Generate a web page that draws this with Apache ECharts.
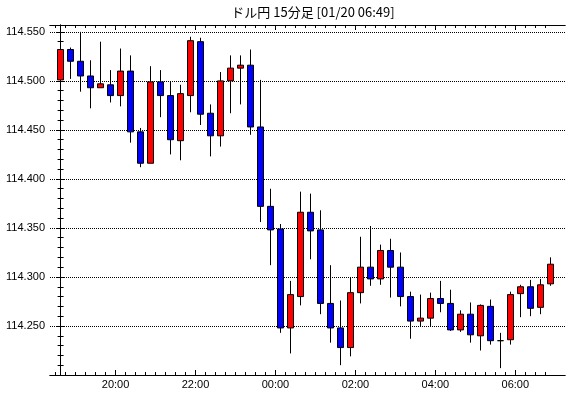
<!DOCTYPE html>
<html>
<head>
<meta charset="utf-8">
<script src="https://cdn.jsdelivr.net/npm/echarts@6/dist/echarts.min.js"></script>
<style>
  html, body { margin: 0; padding: 0; background: #fff; }
  #chart { width: 570px; height: 398px; }
</style>
</head>
<body>
<div id="chart"></div>
<script>
// 15分足の開始時刻
const times = [
  '18:30', '18:45', '19:00', '19:15', '19:30', '19:45', '20:00', '20:15', '20:30', '20:45',
  '21:00', '21:15', '21:30', '21:45', '22:00', '22:15', '22:30', '22:45', '23:00', '23:15',
  '23:30', '23:45', '00:00', '00:15', '00:30', '00:45', '01:00', '01:15', '01:30', '01:45',
  '02:00', '02:15', '02:30', '02:45', '03:00', '03:15', '03:30', '03:45', '04:00', '04:15',
  '04:30', '04:45', '05:00', '05:15', '05:30', '05:45', '06:00', '06:15', '06:30', '06:45'
]
const openV = [
  114.501, 114.532, 114.520, 114.505, 114.493, 114.496, 114.485, 114.510, 114.448, 114.416,
  114.499, 114.485, 114.439, 114.485, 114.540, 114.467, 114.444, 114.500, 114.513, 114.516,
  114.453, 114.372, 114.349, 114.248, 114.280, 114.366, 114.348, 114.273, 114.248, 114.228,
  114.284, 114.310, 114.298, 114.327, 114.310, 114.280, 114.255, 114.258, 114.278, 114.273,
  114.246, 114.262, 114.240, 114.270, 114.235, 114.236, 114.283, 114.290, 114.269, 114.293
]
const closeV = [
  114.532, 114.520, 114.505, 114.493, 114.497, 114.485, 114.510, 114.448, 114.416, 114.499,
  114.485, 114.440, 114.487, 114.541, 114.466, 114.444, 114.500, 114.513, 114.516, 114.453,
  114.372, 114.348, 114.248, 114.282, 114.366, 114.347, 114.273, 114.248, 114.228, 114.284,
  114.310, 114.298, 114.327, 114.310, 114.280, 114.255, 114.258, 114.278, 114.273, 114.246,
  114.262, 114.241, 114.271, 114.235, 114.235, 114.282, 114.290, 114.268, 114.292, 114.313
]
const lowV = [
  114.478, 114.502, 114.489, 114.472, 114.493, 114.478, 114.474, 114.437, 114.412, 114.416,
  114.463, 114.425, 114.419, 114.468, 114.455, 114.423, 114.433, 114.467, 114.476, 114.445,
  114.356, 114.312, 114.243, 114.222, 114.271, 114.318, 114.262, 114.233, 114.210, 114.219,
  114.273, 114.291, 114.292, 114.279, 114.270, 114.237, 114.250, 114.250, 114.264, 114.245,
  114.244, 114.233, 114.225, 114.231, 114.207, 114.231, 114.259, 114.260, 114.262, 114.291
]
const highV = [
  114.539, 114.534, 114.550, 114.521, 114.540, 114.511, 114.533, 114.526, 114.452, 114.515,
  114.511, 114.499, 114.496, 114.545, 114.544, 114.476, 114.509, 114.526, 114.526, 114.532,
  114.501, 114.390, 114.354, 114.296, 114.387, 114.385, 114.368, 114.312, 114.276, 114.300,
  114.341, 114.352, 114.333, 114.339, 114.325, 114.285, 114.282, 114.284, 114.296, 114.287,
  114.266, 114.274, 114.272, 114.277, 114.243, 114.285, 114.292, 114.297, 114.298, 114.320
]
const timeLabels = ['20:00', '22:00', '00:00', '02:00', '04:00', '06:00']

const chart = echarts.init(document.getElementById('chart'))

// 目盛りは足の境目(開始時刻の手前)に置く
const majorPos = timeLabels.map(t => times.indexOf(t) - 0.5)
const minorPos = times.map((t, i) => i - 0.5)
const labelAt = {}
timeLabels.forEach((t, i) => { labelAt[majorPos[i].toFixed(1)] = t })

const candles = times.map((t, i) => [i, openV[i], closeV[i], lowV[i], highV[i]])

const xMin = -1.06
const xMax = 50.47
const yMin = 114.2
const yMax = 114.557

const txt = { color: '#000', fontSize: 11, fontFamily: 'Liberation Sans' }
const black = { color: '#000', width: 1 }

const xBase = {
  type: 'value', min: xMin, max: xMax, splitLine: { show: false },
  axisLine: { show: true, onZero: false, lineStyle: black }
}

let option = {
  animation: false,
  backgroundColor: '#fff',
  title: {
    text: 'ドル円 15分足 [01/20 06:49]',
    left: 308,
    top: 1,
    textAlign: 'center',
    textStyle: { color: '#000', fontSize: 13, fontWeight: 'normal', fontFamily: 'Noto Sans CJK JP' }
  },
  grid: { left: 50, right: 5, top: 25, bottom: 23, containLabel: false },
  xAxis: [
    Object.assign({}, xBase, {
      position: 'bottom',
      axisTick: { show: true, inside: true, length: 5, lineStyle: black, customValues: majorPos },
      axisLabel: Object.assign({}, txt, {
        margin: 4,
        customValues: majorPos,
        formatter: v => labelAt[Number(v).toFixed(1)] || ''
      })
    }),
    Object.assign({}, xBase, {
      position: 'bottom',
      axisTick: { show: true, inside: true, length: 3, lineStyle: black, customValues: minorPos },
      axisLabel: { show: false }
    }),
    Object.assign({}, xBase, {
      position: 'top',
      axisTick: { show: true, inside: true, length: 5, lineStyle: black, customValues: majorPos },
      axisLabel: { show: false }
    }),
    Object.assign({}, xBase, {
      position: 'top',
      axisTick: { show: true, inside: true, length: 3, lineStyle: black, customValues: minorPos },
      axisLabel: { show: false }
    })
  ],
  yAxis: [
    {
      type: 'value', position: 'left', min: yMin, max: yMax, interval: 0.05,
      axisLine: { show: true, lineStyle: black },
      axisTick: { show: true, inside: true, length: 4, lineStyle: black },
      minorTick: { show: true, splitNumber: 5, length: 3, lineStyle: black },
      axisLabel: Object.assign({}, txt, {
        margin: 5, showMinLabel: false, showMaxLabel: false,
        formatter: v => v.toFixed(3)
      }),
      splitLine: { show: true, lineStyle: { color: '#000', width: 1, type: [1, 1] } }
    },
    {
      type: 'value', position: 'right', min: yMin, max: yMax, interval: 0.05,
      axisLine: { show: true, lineStyle: black },
      axisTick: { show: true, inside: true, length: 4, lineStyle: black },
      minorTick: { show: true, splitNumber: 5, length: 3, lineStyle: black },
      axisLabel: { show: false },
      splitLine: { show: false }
    }
  ],
  series: [
    {
      type: 'candlestick',
      xAxisIndex: 0,
      yAxisIndex: 0,
      barWidth: 6,
      data: candles,
      itemStyle: {
        color: '#ff0000',
        color0: '#0000ff',
        borderColor: '#000',
        borderColor0: '#000',
        borderColorDoji: '#000',
        borderWidth: 1
      }
    }
  ]
}
chart.setOption(option)
</script>
</body>
</html>
